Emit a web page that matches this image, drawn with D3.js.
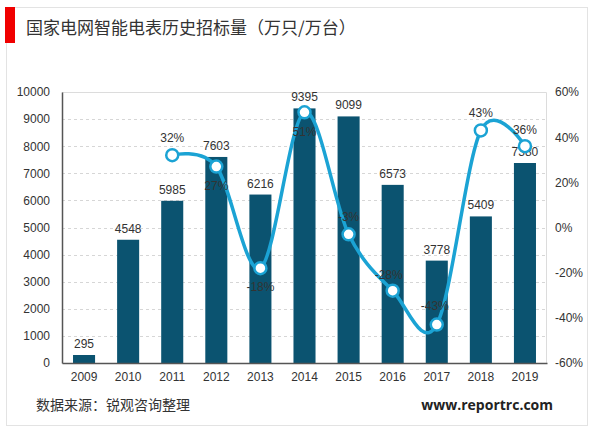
<!DOCTYPE html>
<html>
<head>
<meta charset="utf-8">
<script src="https://cdn.jsdelivr.net/npm/d3@7"></script>
<style>
  body { margin: 0; background: #fff; }
  svg { display: block; }
</style>
</head>
<body>
<div id="chart"></div>
<script>
const years = ['2009', '2010', '2011', '2012', '2013', '2014', '2015', '2016', '2017', '2018', '2019']
const volume = [295, 4548, 5985, 7603, 6216, 9395, 9099, 6573, 3778, 5409, 7380]
const growthYears = ['2011', '2012', '2013', '2014', '2015', '2016', '2017', '2018', '2019']
const growth = [32, 27, -18, 51, -3, -28, -43, 43, 36]
const leftTicks = [0, 1000, 2000, 3000, 4000, 5000, 6000, 7000, 8000, 9000, 10000]
const rightTicks = [-60, -40, -20, 0, 20, 40, 60]

// where each percent label sits relative to its point (dx, dy)
const growthLabelPos = [[0, -17], [0, 19], [0, 19], [0, 20], [0, -17], [-4, -16], [-2, -19], [0, -17], [0, -16]]

const W = 600, H = 433
const margin = {top: 92, right: 53, bottom: 70, left: 62}
const width = W - margin.left - margin.right
const height = H - margin.top - margin.bottom

const numFont = '"Liberation Sans", Arial, sans-serif'
const cjkFont = '"Noto Sans CJK SC", sans-serif'

const svg = d3.select('#chart').append('svg')
  .attr('width', W)
  .attr('height', H)

// outer frame
svg.append('rect')
  .attr('x', 6.5).attr('y', 7.5)
  .attr('width', 581).attr('height', 418)
  .attr('fill', '#fff')
  .attr('stroke', '#e3e3e3')

svg.append('rect')
  .attr('x', 5).attr('y', 7)
  .attr('width', 10).attr('height', 36)
  .attr('fill', '#f00000')

svg.append('text')
  .attr('x', 26).attr('y', 34)
  .attr('font-family', cjkFont)
  .attr('font-size', 17)
  .attr('fill', '#333')
  .text('国家电网智能电表历史招标量（万只/万台）')

const g = svg.append('g')
  .attr('transform', 'translate(' + margin.left + ',' + margin.top + ')')

const x = d3.scaleBand()
  .domain(years)
  .range([0, width])
  .paddingInner(0.5)
  .paddingOuter(0.25)
const y = d3.scaleLinear()
  .domain([0, 10000])
  .range([height, 0])
const y2 = d3.scaleLinear()
  .domain([-60, 60])
  .range([height, 0])

// plot border (top/right)
g.append('path')
  .attr('d', 'M0,0.5H' + (width - 0.5) + 'V' + height)
  .attr('fill', 'none')
  .attr('stroke', '#dcdcdc')

// gridlines
g.selectAll('.grid')
  .data(leftTicks.slice(1, -1))
  .enter().append('line')
  .attr('x1', 0).attr('x2', width)
  .attr('y1', d => Math.round(y(d)) + 0.5)
  .attr('y2', d => Math.round(y(d)) + 0.5)
  .attr('stroke', '#d6d6d6')
  .attr('stroke-dasharray', '3,3')

// bars
g.selectAll('.bar')
  .data(volume)
  .enter().append('rect')
  .attr('x', (d, i) => x(years[i]))
  .attr('y', d => y(d))
  .attr('width', x.bandwidth())
  .attr('height', d => height - y(d))
  .attr('fill', '#0b5370')

g.selectAll('.barLabel')
  .data(volume)
  .enter().append('text')
  .attr('x', (d, i) => x(years[i]) + x.bandwidth() / 2)
  .attr('y', d => y(d) - 7)
  .attr('text-anchor', 'middle')
  .attr('font-family', numFont)
  .attr('font-size', 12)
  .attr('fill', '#333')
  .text(d => d)

// axes
const yAxis = d3.axisLeft(y).tickValues(leftTicks).tickSize(0).tickPadding(12)
  .tickFormat(d3.format('d'))
const y2Axis = d3.axisRight(y2).tickValues(rightTicks).tickSize(0).tickPadding(8)
  .tickFormat(d => d + '%')
const xAxis = d3.axisBottom(x).tickSize(0).tickPadding(9)

const gy = g.append('g').call(yAxis)
gy.select('.domain').attr('stroke', '#555').attr('stroke-width', 1.5)
gy.selectAll('text').attr('font-family', numFont).attr('font-size', 12).attr('fill', '#333')

const gy2 = g.append('g').attr('transform', 'translate(' + width + ',0)').call(y2Axis)
gy2.select('.domain').remove()
gy2.selectAll('text').attr('font-family', numFont).attr('font-size', 12).attr('fill', '#333')

const gx = g.append('g').attr('transform', 'translate(0,' + height + ')').call(xAxis)
gx.select('.domain').attr('stroke', '#555').attr('stroke-width', 1.5)
gx.selectAll('text').attr('font-family', numFont).attr('font-size', 12).attr('fill', '#333')

// growth line
const cx = (d, i) => x(growthYears[i]) + x.bandwidth() / 2
const line = d3.line()
  .x(cx)
  .y(d => y2(d))
  .curve(d3.curveCardinal.tension(0))

g.append('path')
  .datum(growth)
  .attr('d', line)
  .attr('fill', 'none')
  .attr('stroke', '#1ba3d4')
  .attr('stroke-width', 3.5)

g.selectAll('.dot')
  .data(growth)
  .enter().append('circle')
  .attr('cx', cx)
  .attr('cy', d => y2(d))
  .attr('r', 6)
  .attr('fill', '#fff')
  .attr('stroke', '#1ba3d4')
  .attr('stroke-width', 2.5)

g.selectAll('.growthLabel')
  .data(growth)
  .enter().append('text')
  .attr('x', (d, i) => cx(d, i) + growthLabelPos[i][0])
  .attr('y', (d, i) => y2(d) + growthLabelPos[i][1] + 4)
  .attr('text-anchor', 'middle')
  .attr('font-family', numFont)
  .attr('font-size', 12)
  .attr('fill', '#333')
  .text(d => d + '%')

// footer
svg.append('text')
  .attr('x', 36).attr('y', 410)
  .attr('font-family', cjkFont)
  .attr('font-size', 14)
  .attr('fill', '#333')
  .text('数据来源：锐观咨询整理')

svg.append('text')
  .attr('x', 553).attr('y', 410)
  .attr('text-anchor', 'end')
  .attr('font-family', '"Open Sans", sans-serif')
  .attr('font-weight', 'bold')
  .attr('font-size', 14)
  .attr('fill', '#222')
  .text('www.reportrc.com')
</script>
</body>
</html>
